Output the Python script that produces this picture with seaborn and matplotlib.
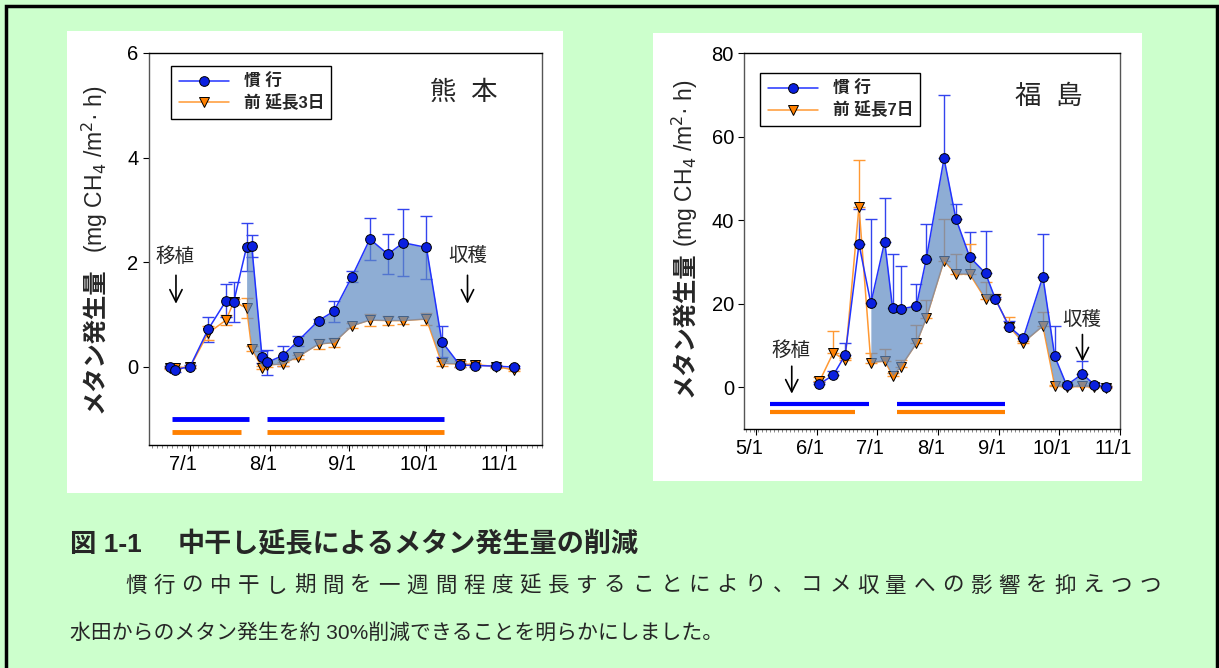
import pandas as pd
import matplotlib
matplotlib.use('Agg')
import matplotlib.pyplot as plt
import matplotlib.dates as mdates
from matplotlib.patches import Rectangle
from matplotlib.transforms import ScaledTranslation
import seaborn as sns

# ---- 熊本 (left panel) ----
kuma_dates = pd.to_datetime([
    '2009-06-23', '2009-06-25', '2009-07-01', '2009-07-08', '2009-07-15', '2009-07-18',
    '2009-07-23', '2009-07-25', '2009-07-29', '2009-07-31', '2009-08-06', '2009-08-12',
    '2009-08-20', '2009-08-26', '2009-09-02', '2009-09-09', '2009-09-16', '2009-09-22',
    '2009-10-01', '2009-10-07', '2009-10-14', '2009-10-20', '2009-10-28', '2009-11-04'])
kuma_conv = [0.0, -0.06, 0.0, 0.71, 1.26, 1.24, 2.29, 2.31, 0.18, 0.08, 0.21, 0.49,
             0.88, 1.06, 1.72, 2.44, 2.15, 2.37, 2.28, 0.48, 0.03, 0.02, 0.01, -0.01]
kuma_conv_err = [0.02, 0.05, 0.03, 0.23, 0.32, 0.38, 0.46, 0.21, 0.11, 0.24, 0.19, 0.10,
                 0.04, 0.20, 0.11, 0.40, 0.38, 0.64, 0.60, 0.29, 0.03, 0.02, 0.02, 0.02]
kuma_ext = [-0.02, -0.02, -0.01, 0.64, 0.89, 1.24, 1.12, 0.34, -0.02, 0.03, 0.05, 0.19,
            0.43, 0.46, 0.78, 0.89, 0.88, 0.88, 0.91, 0.06, 0.05, 0.04, 0.0, -0.06]
kuma_ext_err = [0.02, 0.02, 0.02, 0.13, 0.10, 0.05, 0.19, 0.05, 0.03, 0.03, 0.03, 0.04,
                0.09, 0.08, 0.05, 0.12, 0.08, 0.07, 0.12, 0.04, 0.06, 0.02, 0.02, 0.02]
kuma_fill = (6, 20)  # index range of shaded reduction
# flooded periods (start, end) drawn as bars under the curves
kuma_conv_bars = [('2009-06-24', '2009-07-24'), ('2009-07-31', '2009-10-08')]
kuma_ext_bars = [('2009-06-24', '2009-07-21'), ('2009-07-31', '2009-10-08')]

# ---- 福島 (right panel) ----
fuku_dates = pd.to_datetime([
    '2009-06-02', '2009-06-09', '2009-06-15', '2009-06-22', '2009-06-28', '2009-07-05',
    '2009-07-09', '2009-07-13', '2009-07-21', '2009-07-26', '2009-08-04', '2009-08-10',
    '2009-08-17', '2009-08-25', '2009-08-30', '2009-09-06', '2009-09-13', '2009-09-23',
    '2009-09-29', '2009-10-05', '2009-10-13', '2009-10-19', '2009-10-25'])
fuku_conv = [0.8, 2.9, 7.7, 34.3, 20.1, 34.9, 18.9, 18.8, 19.4, 30.7, 54.8, 40.4,
             31.2, 27.3, 21.1, 14.5, 11.7, 26.5, 7.4, 0.5, 3.2, 0.6, 0.0]
fuku_conv_err = [0.5, 0.9, 3.0, 8.5, 20.3, 10.5, 13.0, 10.2, 5.3, 8.5, 15.2, 3.6,
                 6.1, 10.1, 0.5, 1.4, 0.5, 10.1, 7.3, 0.3, 3.0, 0.3, 0.3]
fuku_ext = [1.4, 8.3, 6.5, 43.3, 5.9, 6.3, 2.8, 4.8, 10.5, 16.5, 30.3, 27.1,
            27.1, 21.1, 21.1, 14.5, 10.7, 14.7, 0.3, 0.1, 0.2, 0.1, -0.1]
fuku_ext_err = [1.0, 5.2, 0.5, 11.2, 2.2, 2.9, 0.5, 1.8, 4.4, 4.4, 10.0, 4.8,
                7.2, 4.1, 1.2, 2.4, 0.5, 3.3, 0.3, 0.3, 0.3, 0.3, 0.3]
fuku_fill = (4, 22)
fuku_conv_bars = [('2009-05-08', '2009-06-27'), ('2009-07-11', '2009-09-04')]
fuku_ext_bars = [('2009-05-08', '2009-06-20'), ('2009-07-11', '2009-09-04')]

label_conv = '慣 行'
kuma_label_ext = '前 延長3日'
fuku_label_ext = '前 延長7日'

kuma_xticks = pd.to_datetime(['2009-07-01', '2009-08-01', '2009-09-01', '2009-10-01', '2009-11-01'])
kuma_xticklabels = ['7/1', '8/1', '9/1', '10/1', '11/1']
fuku_xticks = pd.to_datetime(['2009-05-01', '2009-06-01', '2009-07-01', '2009-08-01',
                              '2009-09-01', '2009-10-01', '2009-11-01'])
fuku_xticklabels = ['5/1', '6/1', '7/1', '8/1', '9/1', '10/1', '11/1']

sns.set_style('ticks')
plt.rcParams['font.family'] = ['Liberation Sans', 'Noto Sans CJK JP']

BLUE_LINE = '#2233FF'
BLUE_MARK = '#0A20E0'
ORANGE_LINE = '#FF9933'
ORANGE_MARK = '#FF8000'
FILL = '#5F8AC2'

fig = plt.figure(figsize=(12.19, 6.68), dpi=100)
fig.patch.set_facecolor('#CCFFCC')


def px(x, y):
    return x / 1219, 1 - y / 668


# white panels and outer border
for (x0, y0, x1, y1) in [(67, 31, 563, 493), (653, 33, 1142, 481)]:
    fig.patches.append(Rectangle(px(x0, y1), (x1 - x0) / 1219, (y1 - y0) / 668,
                                 transform=fig.transFigure, facecolor='white',
                                 edgecolor='none', zorder=-1))
fig.patches.append(Rectangle((6 / 1219, -0.05), (1217 - 6) / 1219, 1.05 - 6 / 668,
                             transform=fig.transFigure, facecolor='none',
                             edgecolor='black', lw=2.5, zorder=-1))


def draw_panel(ax, dates, conv, conv_err, ext, ext_err, label_ext, fill, conv_bars,
               ext_bars, bar_y, two_sided, bar_lw):
    if two_sided:
        ce, ee = conv_err, ext_err
    else:
        ce = [[0] * len(conv_err), conv_err]
        ee = [[0] * len(ext_err), ext_err]
    ax.errorbar(dates, conv, yerr=ce, fmt='none', ecolor='#3344EE', elinewidth=1,
                capsize=4, capthick=1, zorder=2)
    ax.errorbar(dates, ext, yerr=ee, fmt='none', ecolor=ORANGE_LINE, elinewidth=1,
                capsize=4, capthick=1, zorder=2)
    sns.lineplot(x=dates, y=ext, color=ORANGE_LINE, lw=1.1, marker='v', markersize=7,
                 markerfacecolor=ORANGE_MARK, markeredgecolor='black', markeredgewidth=0.7,
                 label=label_ext, ax=ax, zorder=3)
    i0, i1 = fill
    ax.fill_between(dates[i0:i1 + 1], ext[i0:i1 + 1], conv[i0:i1 + 1], color=FILL,
                    alpha=0.7, lw=0, zorder=4)
    sns.lineplot(x=dates, y=conv, color=BLUE_LINE, lw=1.1, marker='o', markersize=7,
                 markerfacecolor=BLUE_MARK, markeredgecolor='black', markeredgewidth=0.7,
                 label=label_conv, ax=ax, zorder=5)
    for s, e in conv_bars:
        ax.plot(pd.to_datetime([s, e]), [bar_y[0]] * 2, color='#0000FF', lw=bar_lw,
                solid_capstyle='butt')
    for s, e in ext_bars:
        ax.plot(pd.to_datetime([s, e]), [bar_y[1]] * 2, color='#FF8000', lw=bar_lw,
                solid_capstyle='butt')

    h, l = ax.get_legend_handles_labels()
    ax.legend(h[::-1], l[::-1], loc='upper left', frameon=True, fancybox=False,
              edgecolor='black', framealpha=1, borderaxespad=0, handlelength=3.0,
              handletextpad=0.9, borderpad=0.45, labelspacing=0.3,
              prop={'weight': 'bold', 'size': 12})
    ax.get_legend().get_frame().set_linewidth(1.0)

    for side in ['left', 'right']:
        ax.spines[side].set_color('#555555')
    for side in ['top', 'bottom']:
        ax.spines[side].set_color('black')
    for sp in ax.spines.values():
        sp.set_linewidth(1.0)
    ax.tick_params(axis='both', direction='out', length=4, labelsize=14.5, colors='black')
    ax.xaxis.set_minor_locator(mdates.DayLocator(interval=2))
    ax.tick_params(axis='x', which='minor', length=2, color='#777777')
    ax.set_xlabel('')
    ax.set_ylabel('')


# ---- left: 熊本 ----
ax1 = fig.add_axes([149 / 1219, 1 - 445 / 668, 393 / 1219, 392 / 668])
draw_panel(ax1, kuma_dates, kuma_conv, kuma_conv_err, kuma_ext, kuma_ext_err,
           kuma_label_ext, kuma_fill, kuma_conv_bars, kuma_ext_bars, (-1.0, -1.25), True, 3.5)
ax1.set_xlim(pd.Timestamp('2009-06-15'), pd.Timestamp('2009-11-15'))
ax1.set_ylim(-1.5, 6)
ax1.set_yticks([0, 2, 4, 6])
ax1.set_xticks(kuma_xticks)
ax1.set_xticklabels(kuma_xticklabels)
ax1.get_legend().set_bbox_to_anchor((0.056, 0.967))
ax1.text(0.80, 0.90, '熊  本', transform=ax1.transAxes, ha='center', va='center', fontsize=19)
ax1.text(pd.Timestamp('2009-06-25'), 2.1, '移植', ha='center', va='center', fontsize=14)
ax1.annotate('', xy=(pd.Timestamp('2009-06-25 12:00'), 1.15),
             xytext=(pd.Timestamp('2009-06-25 12:00'), 1.8),
             arrowprops=dict(arrowstyle='->', lw=1.2, mutation_scale=22, color='black'))
ax1.text(pd.Timestamp('2009-10-17'), 2.12, '収穫', ha='center', va='center', fontsize=14)
ax1.annotate('', xy=(pd.Timestamp('2009-10-17'), 1.15),
             xytext=(pd.Timestamp('2009-10-17'), 1.8),
             arrowprops=dict(arrowstyle='->', lw=1.2, mutation_scale=22, color='black'))
ax1.text(-0.137, 0.082, 'メタン発生量', transform=ax1.transAxes, rotation=90,
         ha='center', va='bottom', fontsize=17.5, fontweight='bold')
ax1.text(-0.137, 0.49, '(mg CH$_4$ /m$^2$· h)', transform=ax1.transAxes, rotation=90,
         ha='center', va='bottom', fontsize=16.5)

# ---- right: 福島 ----
ax2 = fig.add_axes([744.3 / 1219, 1 - 429 / 668, 375.7 / 1219, 375.7 / 668])
draw_panel(ax2, fuku_dates, fuku_conv, fuku_conv_err, fuku_ext, fuku_ext_err,
           fuku_label_ext, fuku_fill, fuku_conv_bars, fuku_ext_bars, (-4, -6), False, 3)
ax2.set_xlim(pd.Timestamp('2009-04-25'), pd.Timestamp('2009-11-01'))
ax2.set_ylim(-10, 80)
ax2.set_yticks([0, 20, 40, 60, 80])
ax2.set_xticks(fuku_xticks)
ax2.set_xticklabels(fuku_xticklabels)
ax2.get_legend().set_bbox_to_anchor((0.042, 0.947))
ax2.text(0.81, 0.885, '福  島', transform=ax2.transAxes, ha='center', va='center', fontsize=19)
ax2.text(pd.Timestamp('2009-05-18 12:00'), 8.8, '移植', ha='center', va='center', fontsize=14)
ax2.annotate('', xy=(pd.Timestamp('2009-05-19'), -2.2),
             xytext=(pd.Timestamp('2009-05-19'), 5.7),
             arrowprops=dict(arrowstyle='->', lw=1.2, mutation_scale=22, color='black'))
ax2.text(pd.Timestamp('2009-10-12 12:00'), 16.1, '収穫', ha='center', va='center', fontsize=14)
ax2.annotate('', xy=(pd.Timestamp('2009-10-13'), 5.5),
             xytext=(pd.Timestamp('2009-10-13'), 13.3),
             arrowprops=dict(arrowstyle='->', lw=1.2, mutation_scale=22, color='black'))
ax2.text(-0.158, 0.086, 'メタン発生量', transform=ax2.transAxes, rotation=90,
         ha='center', va='bottom', fontsize=17.5, fontweight='bold')
ax2.text(-0.158, 0.485, '(mg CH$_4$ /m$^2$· h)', transform=ax2.transAxes, rotation=90,
         ha='center', va='bottom', fontsize=16.5)

# tick labels sit a bit left of their ticks in the original
for ax in (ax1, ax2):
    for lbl in ax.get_xticklabels():
        lbl.set_transform(lbl.get_transform() + ScaledTranslation(-0.07, 0, fig.dpi_scale_trans))

# ---- caption ----
fig.text(*px(70, 545), '図 1-1', ha='left', va='center', fontsize=19, fontweight='bold')
fig.text(*px(178, 545), '中干し延長によるメタン発生量の削減', ha='left', va='center',
         fontsize=19.5, fontweight='bold')
line1 = '慣行の中干し期間を一週間程度延長することにより、コメ収量への影響を抑えつつ'
step = (1139 - 125) / (len(line1) - 1)
for i, ch in enumerate(line1):
    fig.text(*px(125 + i * step, 586), ch, ha='left', va='center', fontsize=15.5)
fig.text(*px(70, 633), '水田からのメタン発生を約 30%削減できることを明らかにしました。',
         ha='left', va='center', fontsize=15)

fig.savefig('out.png', dpi=100, facecolor=fig.get_facecolor())
